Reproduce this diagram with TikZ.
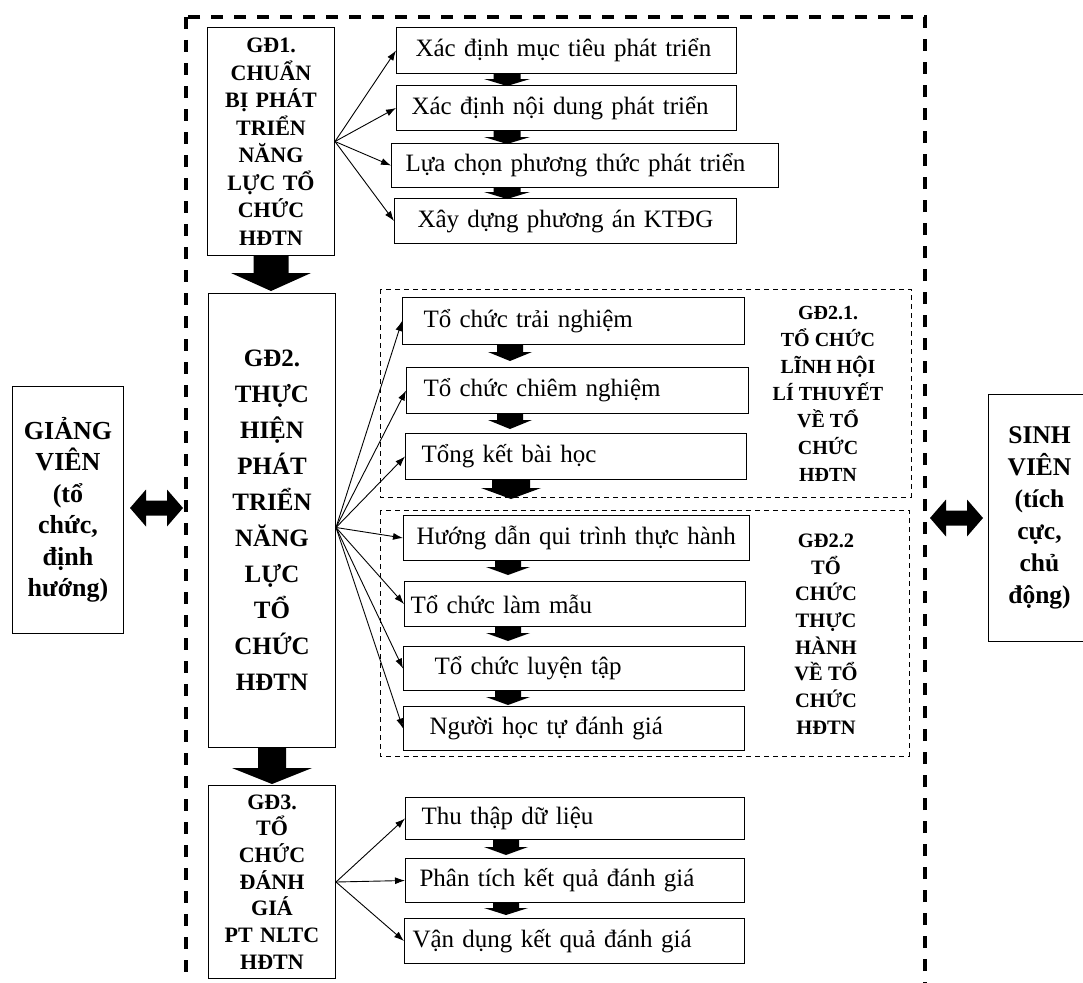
\documentclass[tikz,border=0pt]{standalone}
\usepackage{fontspec}
\setmainfont{Liberation Serif}
\usetikzlibrary{arrows.meta,calc}
% block arrow pointing down: #1 top centre, #2 shaft half width, #3 shaft length, #4 head half width, #5 head length
\newcommand{\bdarrow}[5]{\fill (#1) ++(-#2,0) -- ++(0,#3) -- ++({#2-#4},0) -- ++(#4,#5) -- ++(#4,-#5) -- ++({#2-#4},0) -- ++(0,-#3) -- cycle;}
% horizontal double arrow centred at #1
\newcommand{\dharrow}[1]{\fill (#1) ++(-26.5,0) -- ++(16,-18.5) -- ++(0,11) -- ++(21,0) -- ++(0,-11) -- ++(16,18.5) -- ++(-16,18.5) -- ++(0,-11) -- ++(-21,0) -- ++(0,11) -- cycle;}
\tikzset{
 box/.style={draw, line width=1pt, anchor=north west, inner sep=0pt, align=left, font=\fontsize{25}{29}\selectfont},
 gd/.style={draw, line width=1pt, anchor=north west, inner sep=0pt, align=center, text width=127pt},
 side/.style={draw, line width=1pt, anchor=north west, inner sep=0pt, align=center, minimum height=247pt},
 lab/.style={align=center, inner sep=0pt},
 fan/.style={line width=0.9pt, -{Latex[length=10pt,width=7pt]}},
 frame/.style={line width=3.5pt, dash pattern=on 12pt off 11pt},
 sub/.style={line width=0.9pt, dash pattern=on 5pt off 4pt},
}
\begin{document}
\begin{tikzpicture}[x=1pt,y=-1pt]
\useasboundingbox (0,0) rectangle (1083,982);
\clip (0,0) rectangle (1083,982);
\fill[white] (0,0) rectangle (1083,982);

% outer frame and sub-frames
\draw[frame] (186,17) rectangle (925,1010);
\draw[sub] (380,289) rectangle (911,497);
\draw[sub] (380,510) rectangle (909,756);

% stage boxes
\node[gd, minimum height=228pt, font=\bfseries\fontsize{22}{27.5}\selectfont] (gd1) at (207,27)
 {GĐ1.\\CHUẨN\\BỊ PHÁT\\TRIỂN\\NĂNG\\LỰC TỔ\\CHỨC\\HĐTN};
\node[gd, minimum height=454pt, font=\bfseries\fontsize{25}{36}\selectfont] (gd2) at (208,293)
 {GĐ2.\\THỰC\\HIỆN\\PHÁT\\TRIỂN\\NĂNG\\LỰC\\TỔ\\CHỨC\\HĐTN};
\node[gd, minimum height=193pt, font=\bfseries\fontsize{22}{26.7}\selectfont] (gd3) at (208,785)
 {GĐ3.\\TỔ\\CHỨC\\ĐÁNH\\GIÁ\\PT NLTC\\HĐTN};

% GD1 steps
\node[box, text width=340pt, minimum height=46pt] (b1) at (396,27) {\hspace*{19pt}Xác định mục tiêu phát triển};
\node[box, text width=340pt, minimum height=45pt] (b2) at (396,85) {\hspace*{15pt}Xác định nội dung phát triển};
\node[box, text width=387pt, minimum height=44pt] (b3) at (391,143) {\hspace*{14pt}Lựa chọn phương thức phát triển};
\node[box, text width=342pt, minimum height=45pt] (b4) at (394,198) {\hspace*{23pt}Xây dựng phương án KTĐG};

% GD2.1 steps
\node[box, text width=342pt, minimum height=47pt] (c1) at (402,297) {\hspace*{21pt}Tổ chức trải nghiệm};
\node[box, text width=342pt, minimum height=46pt] (c2) at (406,367) {\hspace*{17pt}Tổ chức chiêm nghiệm};
\node[box, text width=341pt, minimum height=46pt] (c3) at (405,433) {\hspace*{16pt}Tổng kết bài học};

% GD2.2 steps
\node[box, text width=346pt, minimum height=45pt] (d1) at (403,515) {\hspace*{13pt}Hướng dẫn qui trình thực hành};
\node[box, text width=341pt, minimum height=45pt] (d2) at (404,581) {\hspace*{6pt}Tổ chức làm mẫu};
\node[box, text width=341pt, minimum height=44pt] (d3) at (403,646) {\hspace*{31pt}Tổ chức luyện tập};
\node[box, text width=341pt, minimum height=44pt] (d4) at (403,706) {\hspace*{26pt}Người học tự đánh giá};

% GD3 steps
\node[box, text width=339pt, minimum height=42pt] (e1) at (405,797) {\hspace*{16pt}Thu thập dữ liệu};
\node[box, text width=339pt, minimum height=44pt] (e2) at (405,858) {\hspace*{14pt}Phân tích kết quả đánh giá};
\node[box, text width=340pt, minimum height=45pt] (e3) at (404,918) {\hspace*{8pt}Vận dụng kết quả đánh giá};

% sub-stage labels
\node[lab, font=\bfseries\fontsize{20}{27}\selectfont] (l21) at (828,394)
 {GĐ2.1.\\TỔ CHỨC\\LĨNH HỘI\\LÍ THUYẾT\\VỀ TỔ\\CHỨC\\HĐTN};
\node[lab, font=\bfseries\fontsize{20.5}{26.7}\selectfont] (l22) at (826,634)
 {GĐ2.2\\TỔ\\CHỨC\\THỰC\\HÀNH\\VỀ TỔ\\CHỨC\\HĐTN};

% actors
\node[side, text width=111pt, font=\bfseries\fontsize{26}{31.5}\selectfont] (gv) at (12,386)
 {GIẢNG\\VIÊN\\(tổ\\chức,\\định\\hướng)};
\node[side, text width=102pt, font=\bfseries\fontsize{25.5}{32}\selectfont] (sv) at (988,394)
 {SINH\\VIÊN\\(tích\\cực,\\chủ\\động)};

% fans
\coordinate (f1) at (gd1.east);
\coordinate (f2) at ([yshift=-7pt]gd2.east);
\coordinate (f3) at (gd3.east);
\foreach \t in {b1,b2,b3,b4} \draw[fan] (f1) -- (\t.west);
\foreach \t in {c1,c2,c3,d1,d2,d3,d4} \draw[fan] (f2) -- (\t.west);
\foreach \t in {e1,e2,e3} \draw[fan] (f3) -- (\t.west);

% big block arrows between stages
\bdarrow{gd1.south}{17.5}{17}{40}{18}
\bdarrow{gd2.south}{14}{20}{40}{16}

% small block arrows between steps
\bdarrow{507,0 |- b1.south}{13.5}{5}{23}{7}
\bdarrow{507,0 |- b2.south}{13.5}{6}{23}{7}
\bdarrow{507,0 |- b3.south}{13.5}{4}{23}{7}
\bdarrow{510,0 |- c1.south}{13}{7}{22}{9}
\bdarrow{510,0 |- c2.south}{13}{6}{22}{9}
\bdarrow{511,0 |- c3.south}{19}{8}{30}{11}
\bdarrow{508,0 |- d1.south}{13}{6}{22}{8}
\bdarrow{508,0 |- d2.south}{13}{6}{22}{8}
\bdarrow{508,0 |- d3.south}{13}{6}{22}{8}
\bdarrow{506,0 |- e1.south}{13}{7}{22}{8}
\bdarrow{506,0 |- e2.south}{13}{5}{22}{7}

% actor double arrows
\dharrow{156.5,508}
\dharrow{956.5,518}
\end{tikzpicture}
\end{document}
